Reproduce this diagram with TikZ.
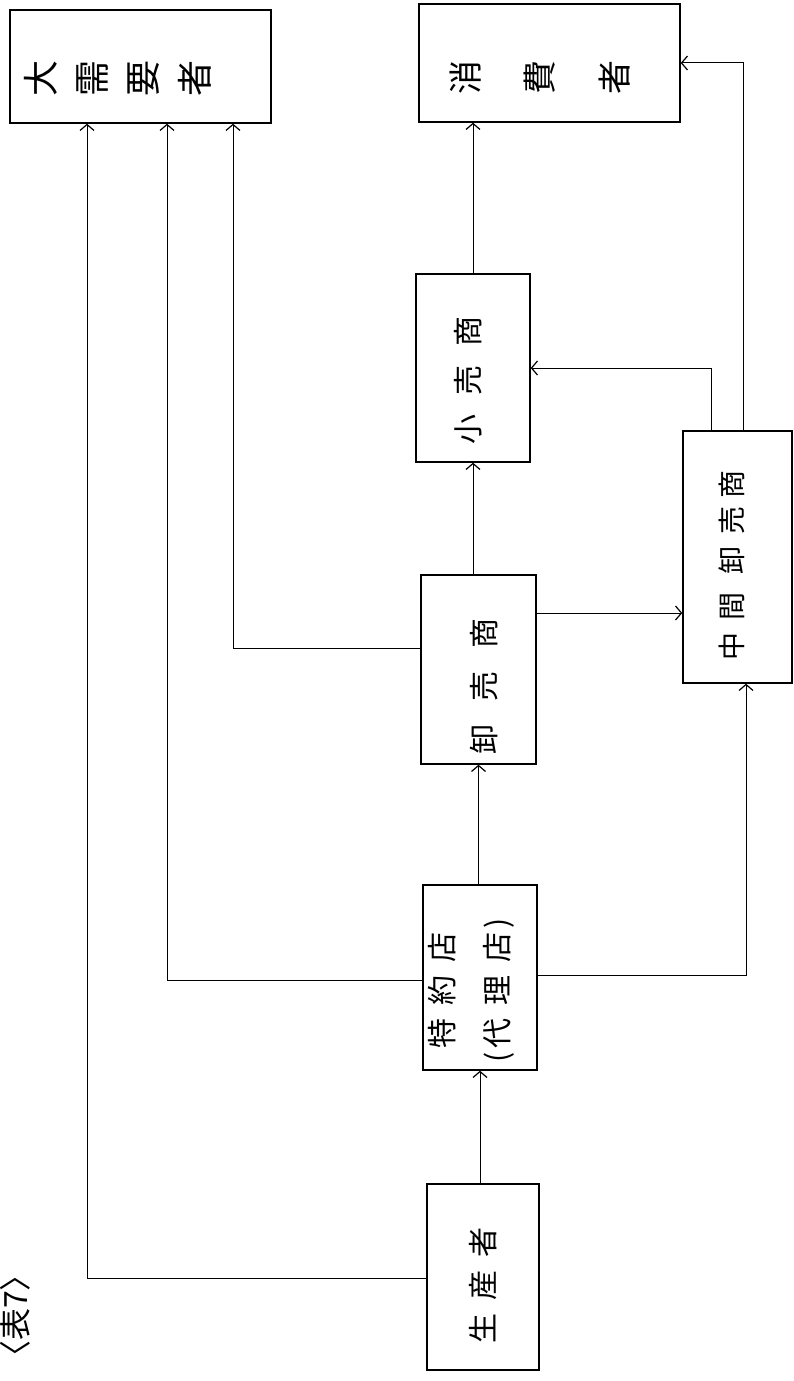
\documentclass[tikz,border=0pt]{standalone}
\usepackage{fontspec}
\newfontfamily\jp{Noto Sans CJK JP}
\usetikzlibrary{arrows.meta}
\newcommand\rc[1]{\rotatebox{90}{#1}}
\newcommand\gsp[1]{\hspace{#1pt}}
\begin{document}
\begin{tikzpicture}[x=1pt,y=-1pt,
  box/.style={draw, line width=1.4pt, inner sep=0pt},
  lbl/.style={font=\jp\fontsize{30}{36}\selectfont, inner sep=0pt},
  conn/.style={line width=1pt},
  arr/.style={conn, -{Straight Barb[length=6pt,width=14pt,line width=1.2pt]}}]
\useasboundingbox (0,0) rectangle (794,1381);
\fill[white] (0,0) rectangle (794,1381);

% boxes
\node[box, minimum width=261pt, minimum height=113pt] (dai) at (140.5,66.5) {};
\node[box, minimum width=261pt, minimum height=118pt] (sho) at (549.5,63) {};
\node[box, minimum width=114pt, minimum height=188pt] (kouri) at (473,368) {};
\node[box, minimum width=115pt, minimum height=189pt] (oroshi) at (478.5,669.5) {};
\node[box, minimum width=109pt, minimum height=252pt] (chukan) at (737.5,557) {};
\node[box, minimum width=114pt, minimum height=185pt] (tokuyaku) at (480,977.5) {};
\node[box, minimum width=112pt, minimum height=186pt] (seisan) at (483,1277) {};

% texts
\node[lbl, font=\jp\fontsize{36}{40}\selectfont] (dai-t) at (118,78) {\rc{大}\gsp{19}\rc{需}\gsp{19}\rc{要}\gsp{19}\rc{者}};
\node[lbl, font=\jp\fontsize{34}{40}\selectfont] (sho-t) at (540,77) {\rc{消}\gsp{43}\rc{費}\gsp{43}\rc{者}};
\node[lbl] (kouri-t) at (468,380) {\rotatebox{90}{小\gsp{19}売\gsp{19}商}};
\node[lbl] (oroshi-t) at (484,686) {\rotatebox{90}{卸\gsp{23}売\gsp{23}商}};
\node[lbl, font=\jp\fontsize{28}{34}\selectfont] (chukan-t) at (732,565) {\rotatebox{90}{中\gsp{12}間\gsp{18}卸\gsp{12}売\gsp{8}商}};
\node[lbl] (toku-t) at (474,990) {\rotatebox{90}{\begin{tabular}{@{}c@{}}特\gsp{13}約\gsp{13}店\\[19pt](\gsp{4}代\gsp{13}理\gsp{13}店\gsp{4})\end{tabular}}};
\node[lbl] (seisan-t) at (483,1285) {\rotatebox{90}{生\gsp{13}産\gsp{13}者}};
\node[lbl, font=\jp\fontsize{32}{36}\selectfont] (fig) at (15,1316) {\rotatebox{90}{〈表7〉}};

% helper coordinates
\coordinate (y613) at (0,613);
\coordinate (k1) at (233,648);
\coordinate (k2) at (711,0);
\coordinate (k3) at (743,0);
\coordinate (k4) at (746,975);
\coordinate (k5) at (167,980);
\coordinate (k6) at (87,1278);

% connectors
\draw[arr] (kouri.north) -- (kouri.north |- sho.south);
\draw[arr] (oroshi.north -| kouri.north) -- (kouri.south);
\draw[arr] (oroshi.east |- y613) -- (chukan.west |- y613);
\draw[arr] (oroshi.west |- k1) -| (dai.south -| k1);
\draw[arr] (chukan.north -| k2) |- (kouri.east);
\draw[arr] (chukan.north -| k3) |- (sho.east);
\draw[arr] (tokuyaku.north -| oroshi.south) -- (oroshi.south);
\draw[arr] (tokuyaku.east |- k4) -| (chukan.south -| k4);
\draw[arr] (tokuyaku.west |- k5) -| (dai.south -| k5);
\draw[arr] (seisan.north -| tokuyaku.south) -- (tokuyaku.south);
\draw[arr] (seisan.west |- k6) -| (dai.south -| k6);
\end{tikzpicture}
\end{document}
